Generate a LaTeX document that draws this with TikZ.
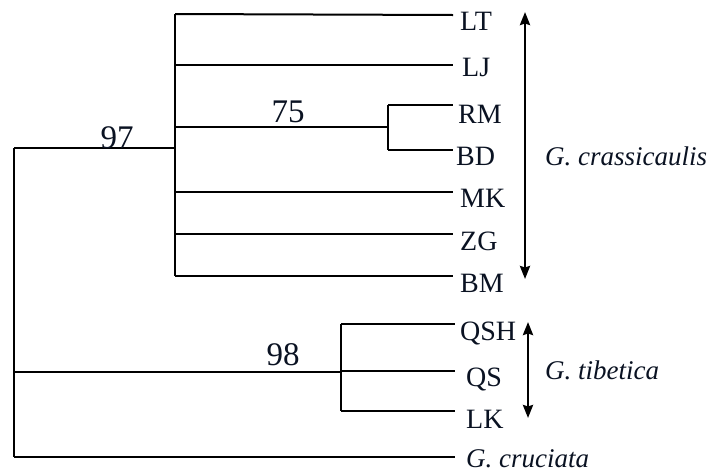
\documentclass[tikz,border=0pt]{standalone}
\usepackage{fontspec}
\setmainfont{Liberation Serif}
\usetikzlibrary{arrows.meta,calc}
\definecolor{txt}{RGB}{10,18,34}
\tikzset{
  br/.style={line width=2pt, black},
  leaf/.style={anchor=base west, inner sep=0pt, text=txt, font=\fontsize{28}{31}\selectfont},
  boot/.style={anchor=base, inner sep=0pt, text=txt, font=\fontsize{33}{36}\selectfont},
  taxon/.style={anchor=base west, inner sep=0pt, text=txt, font=\fontsize{27}{30}\selectfont\itshape},
  span/.style={line width=2.6pt, black, {Stealth[length=13pt,width=10pt,inset=1.5pt]}-{Stealth[length=13pt,width=10pt,inset=1.5pt]}}
}
\begin{document}
\begin{tikzpicture}[x=1pt,y=-1pt]
\useasboundingbox (0,0) rectangle (709,472);
% internal points
\coordinate (rootT) at (14,148);
\coordinate (rootB) at (14,457);
\coordinate (n97) at (175,148);
\coordinate (n97T) at (175,14);
\coordinate (n97B) at (175,276);
\coordinate (n75) at (388,127);
\coordinate (n75T) at (388,105);
\coordinate (n75B) at (388,150);
\coordinate (n98) at (341,372);
\coordinate (n98T) at (341,324);
\coordinate (n98B) at (341,411);
% leaf ends
\coordinate (eLT) at (453,15);
\coordinate (eLJ) at (453,65);
\coordinate (eRM) at (453,105);
\coordinate (eBD) at (453,150);
\coordinate (eMK) at (453,192);
\coordinate (eZG) at (453,234);
\coordinate (eBM) at (453,276);
\coordinate (eQSH) at (455,324);
\coordinate (eQS) at (455,371);
\coordinate (eLK) at (455,411);
\coordinate (eGC) at (455,457);
% tree
\draw[br] (rootT) -- (rootB);
\draw[br] (rootT) -- (n97);
\draw[br] (n97T) -- (n97B);
\draw[br] (n97T) -- (eLT);
\draw[br] (n97 |- eLJ) -- (eLJ);
\draw[br] (n97 |- n75) -- (n75);
\draw[br] (n75T) -- (n75B);
\draw[br] (n75T) -- (eRM);
\draw[br] (n75B) -- (eBD);
\draw[br] (n97 |- eMK) -- (eMK);
\draw[br] (n97 |- eZG) -- (eZG);
\draw[br] (n97B) -- (eBM);
\draw[br] (rootT |- n98) -- (n98);
\draw[br] (n98T) -- (n98B);
\draw[br] (n98T) -- (eQSH);
\draw[br] (n98 |- eQS) -- (eQS);
\draw[br] (n98B) -- (eLK);
\draw[br] (rootB) -- (eGC);
% leaf labels
\node[leaf] (LT) at ($(eLT)+(7,15)$) {LT};
\node[leaf] (LJ) at ($(eLJ)+(9,11)$) {LJ};
\node[leaf] (RM) at ($(eRM)+(5,18)$) {RM};
\node[leaf] (BD) at ($(eBD)+(3,15)$) {BD};
\node[leaf] (MK) at ($(eMK)+(7,15)$) {MK};
\node[leaf] (ZG) at ($(eZG)+(7,16)$) {ZG};
\node[leaf] (BM) at ($(eBM)+(7,16)$) {BM};
\node[leaf] (QSH) at ($(eQSH)+(5,16)$) {QSH};
\node[leaf] (QS) at ($(eQS)+(11,15)$) {QS};
\node[leaf] (LK) at ($(eLK)+(11,17)$) {LK};
\node[taxon] (GC) at ($(eGC)+(11,10)$) {G. cruciata};
% bootstrap values
\node[boot] (b97) at (117,148) {97};
\node[boot] (b75) at (288,122) {75};
\node[boot] (b98) at (283,365) {98};
% group spans
\coordinate (s1T) at (525,12);
\coordinate (s1B) at (525,279);
\coordinate (s2T) at (528,322);
\coordinate (s2B) at (528,418);
\draw[span] (s1T) -- (s1B);
\draw[span] (s2T) -- (s2B);
\node[taxon] (GCR) at (545,165) {G. crassicaulis};
\node[taxon] (GTI) at (545,379) {G. tibetica};
\end{tikzpicture}
\end{document}
